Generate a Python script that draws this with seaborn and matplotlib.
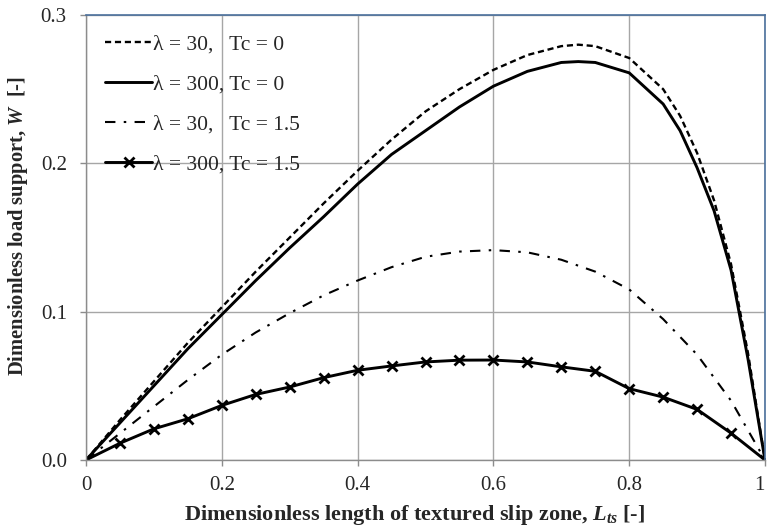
import matplotlib
matplotlib.use("Agg")
import matplotlib.pyplot as plt
import seaborn as sns
import numpy as np

sns.set_style("white")
plt.rcParams['font.family'] = ['Liberation Serif', 'DejaVu Serif']
plt.rcParams['mathtext.fontset'] = 'custom'
plt.rcParams['mathtext.rm'] = 'Liberation Serif:bold'
plt.rcParams['mathtext.it'] = 'Liberation Serif:bold:italic'
plt.rcParams['mathtext.bf'] = 'Liberation Serif:bold'

# ---- data ----
x_smooth = [0, 0.05, 0.1, 0.15, 0.2, 0.25, 0.3, 0.35, 0.4, 0.45, 0.5, 0.55, 0.6,
            0.65, 0.7, 0.725, 0.75, 0.8, 0.85, 0.875, 0.9, 0.925, 0.95, 0.975, 1.0]
w_l30_tc0 = [0, 0.027, 0.053, 0.079, 0.103, 0.127, 0.150, 0.173, 0.195, 0.216, 0.235, 0.250, 0.263,
             0.273, 0.279, 0.280, 0.279, 0.271, 0.250, 0.232, 0.207, 0.175, 0.132, 0.072, 0.0]
w_l300_tc0 = [0, 0.025, 0.050, 0.075, 0.098, 0.121, 0.143, 0.164, 0.186, 0.206, 0.222, 0.238, 0.252,
              0.262, 0.268, 0.2686, 0.268, 0.261, 0.240, 0.222, 0.197, 0.168, 0.128, 0.068, 0.0]
x_dd = [0, 0.05, 0.1, 0.15, 0.2, 0.25, 0.3, 0.35, 0.4, 0.45, 0.5, 0.55, 0.6, 0.65, 0.7,
        0.75, 0.8, 0.85, 0.9, 0.95, 1.0]
w_l30_tc15 = [0, 0.018, 0.036, 0.054, 0.071, 0.086, 0.099, 0.111, 0.121, 0.130, 0.137, 0.1405, 0.1415,
              0.140, 0.135, 0.127, 0.115, 0.095, 0.071, 0.040, 0.0]
x_mk = [0, 0.05, 0.1, 0.15, 0.2, 0.25, 0.3, 0.35, 0.4, 0.45, 0.5, 0.55, 0.6, 0.65, 0.7,
        0.75, 0.8, 0.85, 0.9, 0.95, 1.0]
w_l300_tc15 = [0, 0.0113, 0.021, 0.0278, 0.0368, 0.0442, 0.0492, 0.0555, 0.0605, 0.0634, 0.0661, 0.0673,
               0.0674, 0.0661, 0.0628, 0.0598, 0.0481, 0.0424, 0.0341, 0.0181, 0.0]

labels = ["λ = 30,   Tc = 0", "λ = 300, Tc = 0", "λ = 30,   Tc = 1.5", "λ = 300, Tc = 1.5"]
x_ticks = [0, 0.2, 0.4, 0.6, 0.8, 1]
x_ticklabels = ["0", "0.2", "0.4", "0.6", "0.8", "1"]
y_ticks = [0.0, 0.1, 0.2, 0.3]
y_ticklabels = ["0.0", "0.1", "0.2", "0.3"]

fig = plt.figure(figsize=(7.67, 5.32), dpi=100)
ax = fig.add_axes([86/767, 72/532, 679/767, 445/532])

sns.lineplot(x=x_smooth, y=w_l30_tc0, ax=ax, color='black', lw=1.7,
             label=labels[0], linestyle=(0, (2.6, 1.6)))
sns.lineplot(x=x_smooth, y=w_l300_tc0, ax=ax, color='black', lw=2.1, label=labels[1])
sns.lineplot(x=x_dd, y=w_l30_tc15, ax=ax, color='black', lw=1.5,
             label=labels[2], linestyle=(0, (5, 4, 1.2, 4)))
sns.lineplot(x=x_mk, y=w_l300_tc15, ax=ax, color='black', lw=2.1, linestyle='-',
             marker='x', markersize=7, markeredgewidth=2.0,
             markeredgecolor='black', markerfacecolor='black', label=labels[3])

ax.set_xlim(0, 1)
ax.set_ylim(0, 0.3)
ax.set_xticks(x_ticks)
ax.set_xticklabels(x_ticklabels)
ax.set_yticks(y_ticks)
ax.set_yticklabels(y_ticklabels)
ax.grid(True, color='#a6a6a6', lw=1.0)
ax.set_axisbelow(True)
ax.tick_params(axis='both', which='both', direction='out', length=4.3, width=1,
               color='#8c8c8c', labelsize=15)
ax.tick_params(axis='y', pad=9.5)
ax.tick_params(axis='x', pad=7)
ax.tick_params(bottom=True, left=True)
# keep the last x tick label inside the figure
ax.get_xticklabels()[-1].set_ha('right')

for s in ['left', 'bottom']:
    ax.spines[s].set_color('#8c8c8c')
    ax.spines[s].set_linewidth(1.0)
for s in ['top', 'right']:
    ax.spines[s].set_color('#4a6f9c')
    ax.spines[s].set_linewidth(1.2)

ax.set_xlabel(r"Dimensionless length of textured slip zone, $L_{ts}$ [-]",
              fontsize=16, fontweight='bold')
ax.set_ylabel(r"Dimensionless load support, $W$  [-]",
              fontsize=14.8, fontweight='bold')
ax.xaxis.set_label_coords(0.4845, -55/445)
ax.yaxis.set_label_coords(-68/679, 0.526)
ax.xaxis.label.set_va('center')
ax.yaxis.label.set_va('center')

leg = ax.legend(loc='upper left', frameon=False, fontsize=15.5, handlelength=2.15,
                handletextpad=0.05, labelspacing=0.92, borderaxespad=0.5, borderpad=0.4,
                numpoints=1)

fig.savefig("out.png", dpi=100)
